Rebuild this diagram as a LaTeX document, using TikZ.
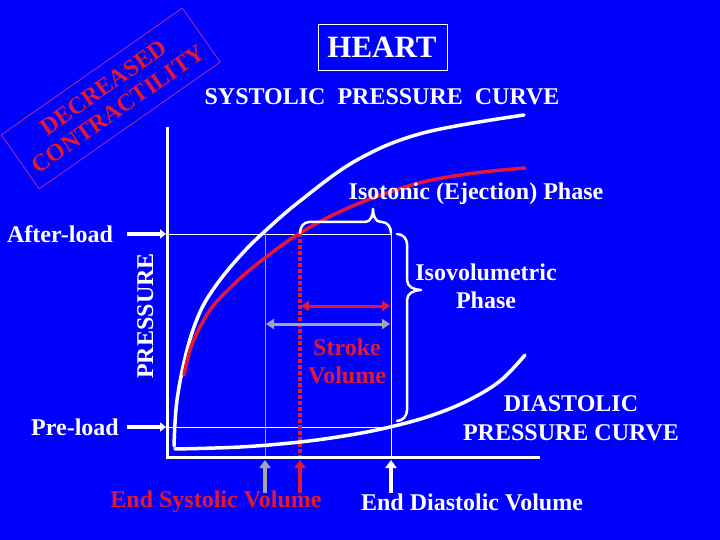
\documentclass[tikz,border=0pt]{standalone}
\usepackage{fontspec}
\setmainfont{Liberation Serif}
\usetikzlibrary{arrows.meta}
\definecolor{bg}{RGB}{0,0,255}
\definecolor{myred}{RGB}{225,25,55}
\definecolor{mygray}{RGB}{165,165,178}
\definecolor{stampline}{RGB}{200,50,140}
\begin{document}
\begin{tikzpicture}[x=1pt,y=-1pt,
  lbl/.style={font=\fontsize{24}{28}\selectfont\bfseries, text=white, inner sep=0pt, anchor=base},
  redlbl/.style={lbl, text=myred},
  thin line/.style={white, line width=1pt},
  axis line/.style={white, line width=3pt},
  curve/.style={line width=3.5pt, line cap=round},
  uparrow/.style={line width=4pt, -{Triangle[length=8pt,width=11pt]}},
  sidearrow/.style={white, line width=4pt, -{Triangle[length=6pt,width=9pt]}},
  dblarrow/.style={line width=3pt, {Triangle[length=8pt,width=10pt]}-{Triangle[length=8pt,width=10pt]}},
  brace line/.style={white, line width=2.5pt, line cap=round, line join=round}]
\useasboundingbox (0,0) rectangle (720,540);
\fill[bg] (0,0) rectangle (720,540);

% stamp
\node[rotate=35, draw=stampline, line width=0.7pt, minimum width=221pt, minimum height=66pt,
  inner sep=0pt, align=center, text=myred, font=\fontsize{24}{26}\selectfont\bfseries]
  (stamp) at (110.75,98.5) {DECREASED\\CONTRACTILITY};

% title
\node[draw=white, line width=0.8pt, minimum width=129pt, minimum height=46pt, inner sep=0pt] (heartbox) at (382.5,47) {};
\node[lbl, font=\fontsize{31}{31}\selectfont\bfseries] (heart) at (382,58) {HEART};
\node[lbl] (sys) at (382,105) {SYSTOLIC\ \ PRESSURE\ \ CURVE};

% coordinates
\coordinate (ytop) at (167,127);
\coordinate (O) at (167,457);
\coordinate (xend) at (540,457);
\coordinate (aL) at (167,234);
\coordinate (aR) at (391,234);
\coordinate (pL) at (167,427);
\coordinate (pR) at (391,427);
\coordinate (gT) at (265,234);
\coordinate (gB) at (265,457);
\coordinate (rT) at (300,233);
\coordinate (rB) at (300,457);
\coordinate (wB) at (391,457);

% thin guide lines
\draw[thin line] (aL) -- (aR);
\draw[thin line] (pL) -- (pR);
\draw[mygray, line width=1pt] (gT) -- (gB);
\draw[thin line] (aR) -- (wB);
\draw[myred, line width=3.5pt, dash pattern=on 3.5pt off 2.5pt] (rT) -- (rB);

% axes
\draw[axis line] (ytop) -- (O) -- (xend);

% curves
\draw[curve, white] plot[smooth, tension=0.6] coordinates {(174,446) (177,400) (187,350) (200,312) (217,284) (240,256) (263,233) (300,201) (357,160) (423,133) (524,115)};
\draw[curve, myred] plot[smooth, tension=0.6] coordinates {(184,375) (190,350) (200,327) (213,306) (228,290) (245,274) (270,254) (300,233) (335,214) (373,198) (423,182) (475,173) (525,168)};
\draw[curve, white] plot[smooth, tension=0.6] coordinates {(175,449) (240,447) (300,442) (350,435) (390,427) (430,416) (467,401) (500,381) (525,355)};

% arrows
\coordinate (gS) at (265,493); \coordinate (gE) at (265,460);
\coordinate (rS) at (300,493); \coordinate (rE) at (300,460);
\coordinate (wS) at (391,493); \coordinate (wE) at (391,460);
\draw[uparrow, mygray] (gS) -- (gE);
\draw[uparrow, myred] (rS) -- (rE);
\draw[uparrow, white] (wS) -- (wE);

\coordinate (alS) at (127,234); \coordinate (alE) at (166,234);
\coordinate (plS) at (127,427); \coordinate (plE) at (166,427);
\draw[sidearrow] (alS) -- (alE);
\draw[sidearrow] (plS) -- (plE);

\coordinate (svL) at (301,306); \coordinate (svR) at (390,306);
\coordinate (gvL) at (266,324); \coordinate (gvR) at (390,324);
\draw[dblarrow, myred] (svL) -- (svR);
\draw[dblarrow, mygray] (gvL) -- (gvR);

% braces
\draw[brace line] (300,233) to[out=90,in=180] (309,222) -- (365,222) to[out=0,in=-90] (373,209)
  to[out=-90,in=180] (381,222) -- (382,222) to[out=0,in=90] (391,233);
\draw[brace line] (397,234) to[out=0,in=90] (407,244) -- (407,280) to[out=-90,in=180] (421,290)
  to[out=180,in=90] (407,300) -- (407,410) to[out=-90,in=0] (397,421);

% labels
\node[lbl] (after) at (60,242) {After-load};
\node[lbl] (pre) at (75,435) {Pre-load};
\node[lbl, rotate=90] (press) at (153,316) {PRESSURE};
\node[lbl] (iso) at (476,200) {Isotonic (Ejection) Phase};
\node[lbl] (isov1) at (486,280) {Isovolumetric};
\node[lbl] (isov2) at (486,308) {Phase};
\node[redlbl] (sv1) at (347,355) {Stroke};
\node[redlbl] (sv2) at (347,383) {Volume};
\node[lbl] (dia1) at (571,411) {DIASTOLIC};
\node[lbl] (dia2) at (571,440) {PRESSURE CURVE};
\node[redlbl] (esv) at (216,507) {End Systolic Volume};
\node[lbl] (edv) at (472,510) {End Diastolic Volume};
\end{tikzpicture}
\end{document}
